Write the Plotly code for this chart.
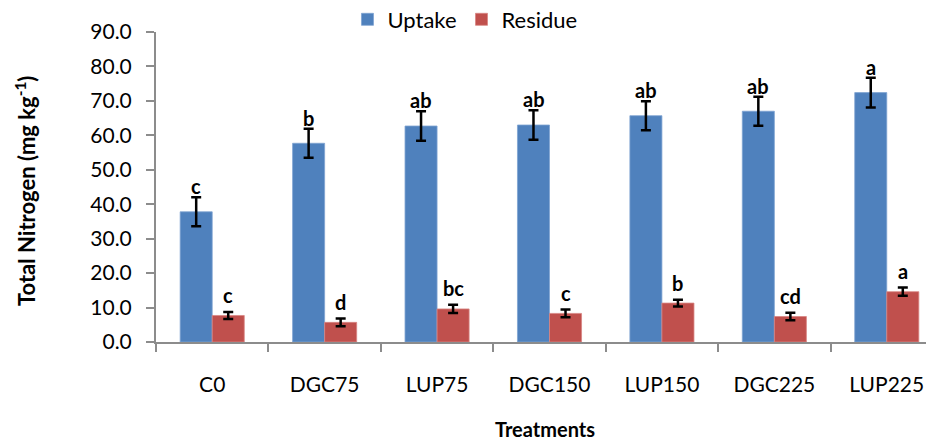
import plotly.graph_objects as go

treatments = ["C0", "DGC75", "LUP75", "DGC150", "LUP150", "DGC225", "LUP225"]
uptake = [37.8, 57.7, 62.7, 63.0, 65.7, 67.0, 72.4]
uptake_err = [4.2, 4.2, 4.3, 4.3, 4.2, 4.2, 4.3]
uptake_letters = ["c", "b", "ab", "ab", "ab", "ab", "a"]
residue = [7.7, 5.7, 9.6, 8.3, 11.3, 7.4, 14.6]
residue_err = [1.0, 1.1, 1.2, 1.1, 1.0, 1.1, 1.2]
residue_letters = ["c", "d", "bc", "c", "b", "cd", "a"]
y_ticks = [0, 10, 20, 30, 40, 50, 60, 70, 80, 90]
y_title = "Total Nitrogen (mg kg<sup>-1</sup>)"

FONT = "Lato"
BAR_PX = 32

fig = go.Figure()
fig.add_trace(go.Bar(
    name="Uptake", x=treatments, y=uptake,
    marker=dict(color="#4F81BD", line=dict(color="#7FA3D2", width=0.8)),
    error_y=dict(type="data", array=uptake_err, visible=True,
                 color="black", thickness=2.5, width=5),
))
fig.add_trace(go.Bar(
    name="Residue", x=treatments, y=residue,
    marker=dict(color="#C0504D", line=dict(color="#D88583", width=0.8)),
    error_y=dict(type="data", array=residue_err, visible=True,
                 color="black", thickness=2.5, width=5),
))

for t, v, e, l in zip(treatments, uptake, uptake_err, uptake_letters):
    fig.add_annotation(x=t, y=v + e, text=l, showarrow=False, xshift=-BAR_PX / 2,
                       yanchor="bottom", yshift=-3,
                       font=dict(family=FONT, size=20, color="black", weight="bold"))
for t, v, e, l in zip(treatments, residue, residue_err, residue_letters):
    fig.add_annotation(x=t, y=v + e, text=l, showarrow=False, xshift=BAR_PX / 2,
                       yanchor="bottom", yshift=3,
                       font=dict(family=FONT, size=20, color="black", weight="bold"))

# y-axis title as a rotated annotation
fig.add_annotation(xref="paper", yref="paper", x=-0.1684, y=0.49, text=y_title,
                   textangle=-90, showarrow=False, xanchor="center", yanchor="middle",
                   font=dict(family=FONT, size=22, color="black", weight="bold"))

fig.update_layout(
    width=926, height=433,
    margin=dict(l=148, r=0, t=24, b=99, autoexpand=False),
    paper_bgcolor="white", plot_bgcolor="white",
    barmode="group", bargap=0.43, bargroupgap=0,
    font=dict(family=FONT, color="black"),
    showlegend=True,
    legend=dict(orientation="h", x=0.4935, xref="container", xanchor="center",
                y=1.108, yref="paper", yanchor="top",
                font=dict(family=FONT, size=22), itemwidth=30,
                traceorder="normal"),
    xaxis=dict(
        range=[-0.5, 6.42],
        showline=True, linecolor="#8C8C8C", linewidth=2,
        ticks="outside", tickson="boundaries", ticklen=8, tickcolor="#8C8C8C", tickwidth=2,
        tickfont=dict(family=FONT, size=21), ticklabelstandoff=23,
        title=dict(text="Treatments", font=dict(family=FONT, size=20, weight="bold"), standoff=29),
        showgrid=False,
    ),
    yaxis=dict(
        range=[0, 90], tickvals=y_ticks, tickformat=".1f",
        showline=True, linecolor="#8C8C8C", linewidth=2,
        ticks="outside", ticklen=8, tickcolor="#8C8C8C", tickwidth=2,
        tickfont=dict(family=FONT, size=21), ticklabelstandoff=10,
        showgrid=False, zeroline=False,
    ),
)

fig.write_html("out.html")
